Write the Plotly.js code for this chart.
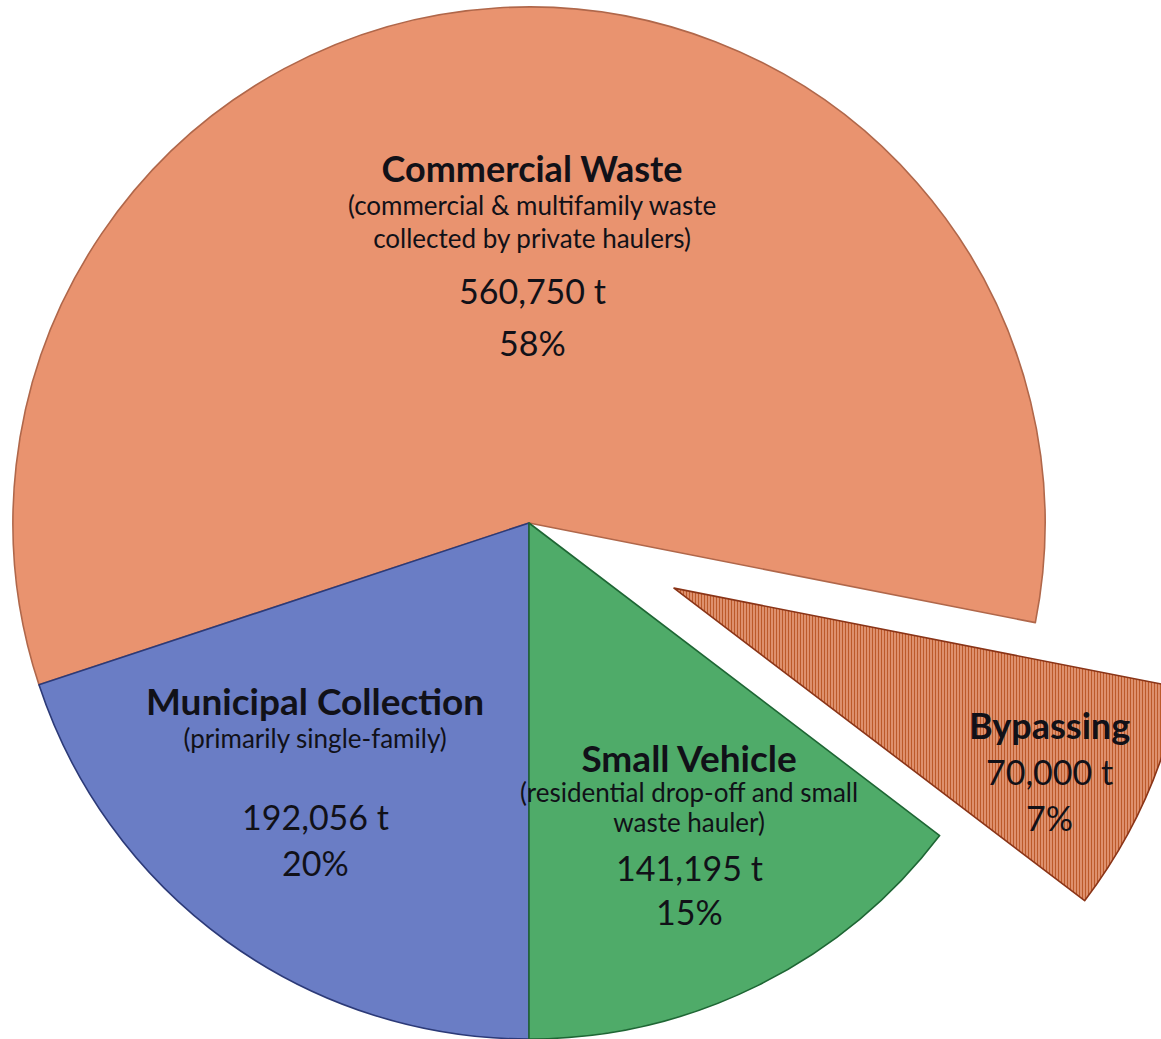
<!DOCTYPE html>
<html>
<head>
<meta charset="utf-8">
<script src="https://cdn.plot.ly/plotly-3.0.1.min.js"></script>
<style>
  html, body { margin: 0; padding: 0; overflow: hidden; background: #ffffff; width: 1161px; height: 1039px; }
  #chart { position: absolute; left: -146px; top: -152px; width: 1350px; height: 1350px; }
</style>
</head>
<body>
<div id="chart"></div>
<script>
// ---- data ----
const categories = ["Commercial Waste", "Municipal Collection", "Small Vehicle", "Bypassing"];
const subtitles = [
  ["(commercial & multifamily waste", "collected by private haulers)"],
  ["(primarily single-family)"],
  ["(residential drop-off and small", "waste hauler)"],
  []
];
const tonnes = [560750, 192056, 141195, 70000];
const unit = " t";

// ---- styling ----
const sliceColors = ["#E9936F", "#6A7DC5", "#4FAB69", "#E39A72"];
const edgeColors  = ["#B0674A", "#2C3A78", "#1E6634", "#8A3417"];
const pulls = [0, 0, 0, 0.308];
const BOX = 1350;               // plot box in px (square)
const maxPull = Math.max(...pulls);
const R = BOX / (2 + 2 * maxPull); // pie radius in px (Plotly rule)

const total = tonnes.reduce((a, b) => a + b, 0);
const degs = tonnes.map(v => v / total * 360);
// Counter-clockwise order: Commercial, Municipal, Small Vehicle, Bypassing.
// In Plotly (counterclockwise) the rotation angle is the boundary between
// the first and second slice; put the Municipal / Small Vehicle boundary straight down.
let rotation = 180 + degs[1];
if (rotation > 180) rotation -= 360;

// label placement (distance along slice bisector as fraction of radius, px tweaks)
const labelFrac = [0.514, 0.618, 0.674, 0.864];
const labelXShift = [20, -27, 6, -31];
const titleSize = [36, 37, 37, 36];
const subSize = 26;
const valueSize = 34;
// header block line spacing / offset, number block line spacing / offset
const headerSpacing = [33, 33, 30, 46];
const headerOffset  = [58, 65, 48, 0];
const numberSpacing = [52, 46, 44, 46];
const numberOffset  = [-58, -58, -55, 0];
const txtColor = "#111118";
const FONT = "Lato, 'Open Sans', sans-serif";

function span(t, size, bold) {
  return '<span style="font-size:' + size + 'px">' + (bold ? '<b>' + t + '</b>' : t) + '</span>';
}

const annotations = [];
let cum = rotation + degs[0]; // clockwise-most edge of first slice (deg from 12 o'clock)
tonnes.forEach((v, i) => {
  const mid = cum - degs[i] / 2;
  cum -= degs[i];
  const a = mid * Math.PI / 180;
  const ux = Math.sin(a), uy = -Math.cos(a); // screen direction (y down)
  const cx = ux * R * pulls[i], cy = uy * R * pulls[i];
  const px = cx + ux * R * labelFrac[i] + labelXShift[i];
  const py = cy + uy * R * labelFrac[i];
  const xp = 0.5 + px / BOX;
  const yp = 0.5 - py / BOX;
  const pct = Math.round(v / total * 100) + "%";
  const base = { xref: "paper", yref: "paper", x: xp, y: yp, showarrow: false,
                 xanchor: "center", yanchor: "middle", align: "center" };

  const header = [span(categories[i], titleSize[i], true)]
    .concat(subtitles[i].map(s => span(s, subSize, false)));
  const numbers = [span(v.toLocaleString("en-US") + unit, valueSize, false),
                   span(pct, valueSize, false)];

  if (subtitles[i].length === 0) {
    // single block: title, value, percentage
    annotations.push(Object.assign({}, base, {
      text: header.concat(numbers).join("<br>"), yshift: headerOffset[i],
      font: { family: FONT, size: headerSpacing[i] / 1.3, color: txtColor }
    }));
  } else {
    annotations.push(Object.assign({}, base, {
      text: header.join("<br>"), yshift: headerOffset[i],
      font: { family: FONT, size: headerSpacing[i] / 1.3, color: txtColor }
    }));
    annotations.push(Object.assign({}, base, {
      text: numbers.join("<br>"), yshift: numberOffset[i],
      font: { family: FONT, size: numberSpacing[i] / 1.3, color: txtColor }
    }));
  }
});

const trace = {
  type: "pie",
  labels: categories,
  values: tonnes,
  sort: false,
  direction: "counterclockwise",
  rotation: rotation,
  pull: pulls,
  textinfo: "none",
  hoverinfo: "label+value+percent",
  marker: {
    colors: sliceColors,
    line: { color: edgeColors, width: 1.6 },
    pattern: {
      shape: ["", "", "", "|"],
      fgcolor: ["#000", "#000", "#000", "#BC5A2A"],
      bgcolor: ["", "", "", "#E9A283"],
      size: 3,
      solidity: 0.5,
      fillmode: "replace"
    }
  },
  domain: { x: [0, 1], y: [0, 1] }
};

const layout = {
  width: BOX, height: BOX,
  margin: { l: 0, r: 0, t: 0, b: 0, pad: 0 },
  paper_bgcolor: "#ffffff",
  showlegend: false,
  annotations: annotations
};

Plotly.newPlot("chart", [trace], layout, { displayModeBar: false, staticPlot: true });
</script>
</body>
</html>
